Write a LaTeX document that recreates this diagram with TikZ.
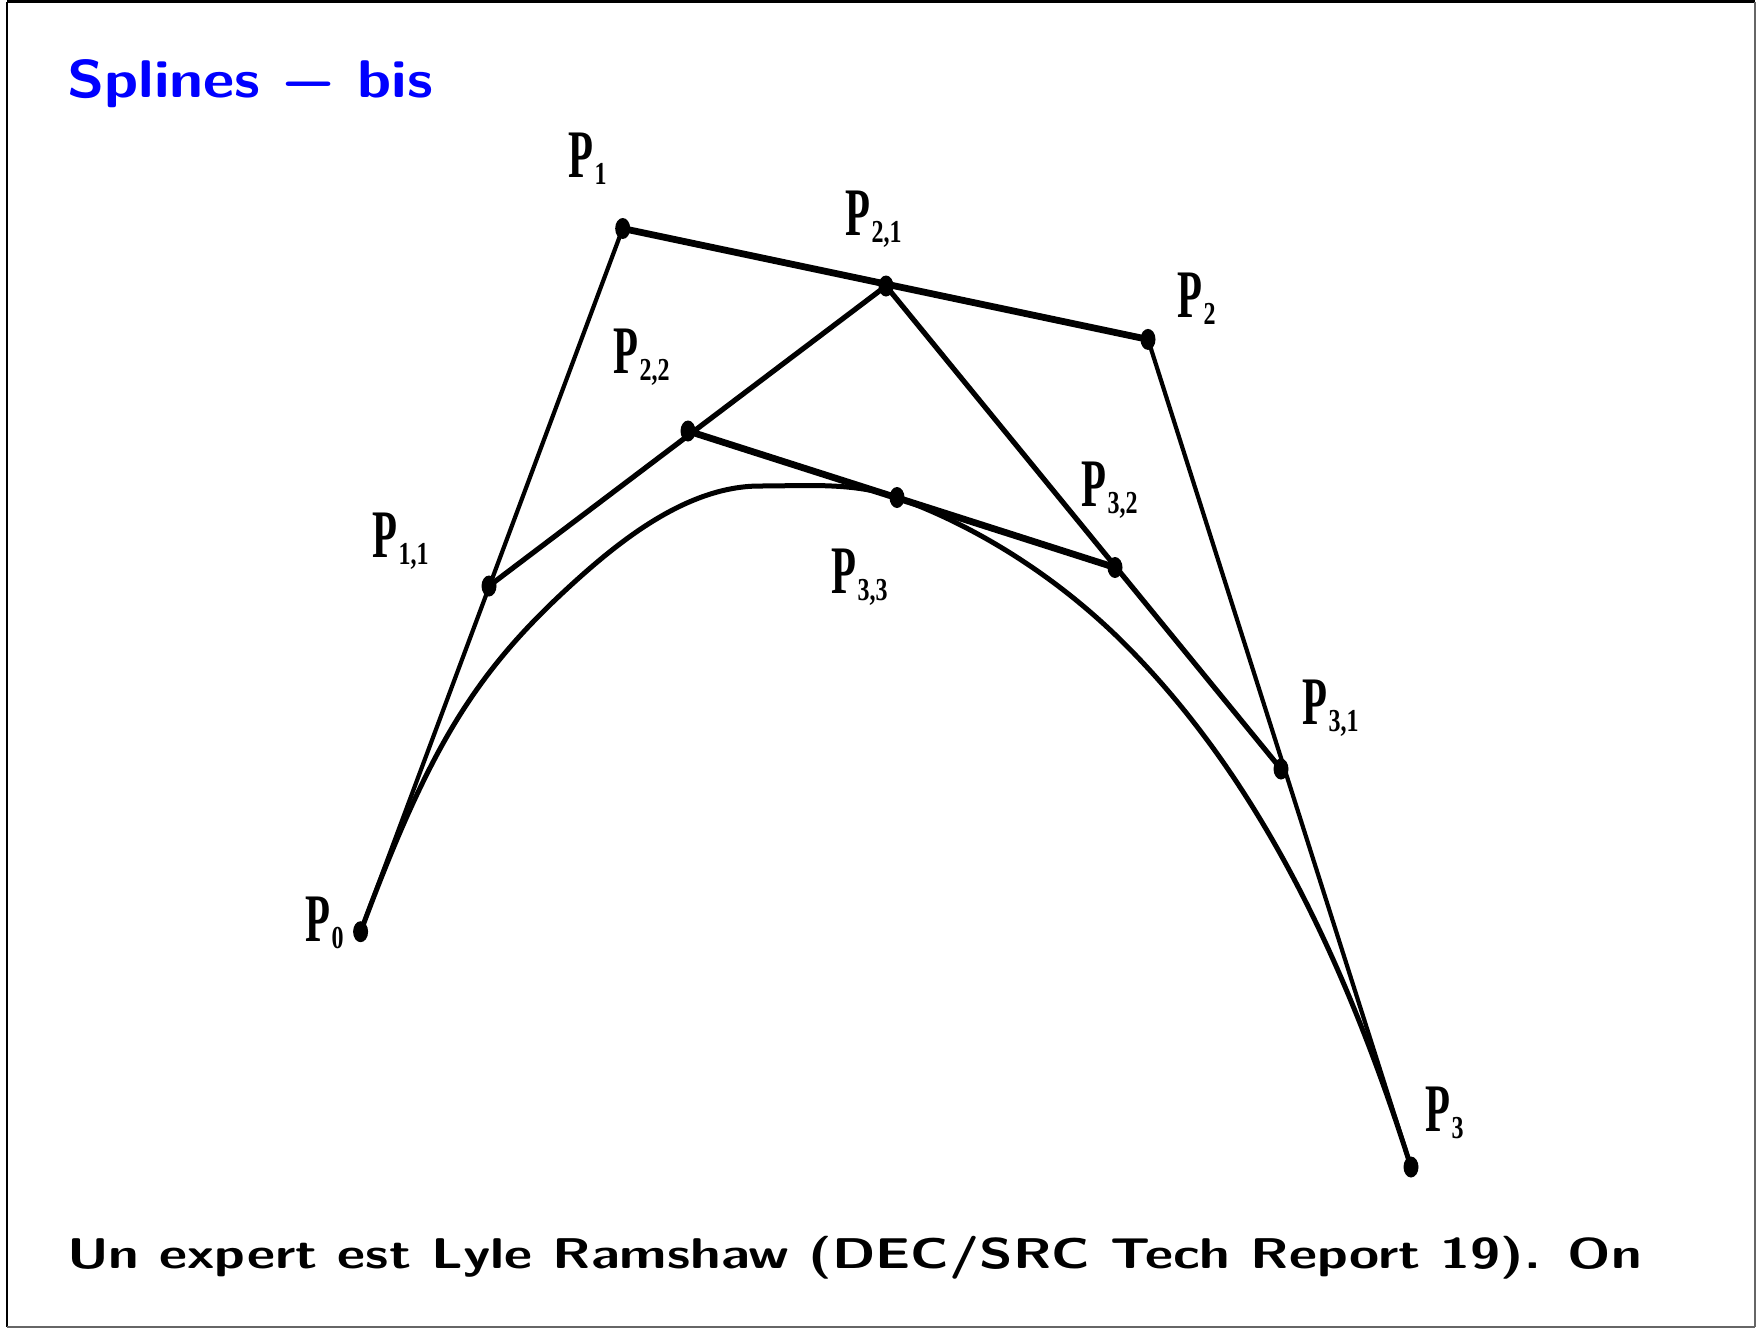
\documentclass[tikz,border=0pt]{standalone}
\usepackage{fontspec}
\newfontfamily\lbl{Liberation Serif}
\newcommand{\fitw}[2]{\sbox0{#2}\pgfmathsetmacro\fitratio{#1/\wd0}\scalebox{\fitratio}[1]{\usebox0}}
\newcommand{\PP}[1]{\scalebox{0.6}[1]{\lbl\bfseries\fontsize{68}{70}\selectfont P\kern3pt\raisebox{-7pt}{\scalebox{1.25}[1]{\fontsize{32}{34}\selectfont #1}}}}
\tikzset{
  thinln/.style={line width=4.2pt, line cap=round, line join=round},
  medln/.style={line width=5.2pt, line cap=round},
  thickln/.style={line width=6.8pt, line cap=round},
  curveln/.style={line width=5pt, line cap=round, line join=round},
  ptdot/.style={fill=black},
  lab/.style={anchor=base west, inner sep=0pt, outer sep=0pt},
}
\begin{document}
\begin{tikzpicture}[x=1pt,y=-1pt]
\useasboundingbox (0,0) rectangle (1756,1328);
% frame
\draw[line width=2.5pt, black] (7,1.5) -- (1755,1.5);
\draw[line width=2.5pt, black] (7,1.5) -- (7,1326.5);
\draw[line width=2pt, black!60] (1755,1.5) -- (1755,1326.5);
\draw[line width=2pt, black!60] (7,1326.5) -- (1755,1326.5);
% points
\coordinate (P0) at (360.6,931.7);
\coordinate (P1) at (622.7,228.5);
\coordinate (P2) at (1148,339.4);
\coordinate (P3) at (1411,1167);
\coordinate (P11) at (489,586);
\coordinate (P21) at (886,286);
\coordinate (P31) at (1281,769);
\coordinate (P22) at (688,431);
\coordinate (P32) at (1115,567.5);
\coordinate (P33) at (897,497.5);
% curve support points
\coordinate (CA) at (580,577);
\coordinate (CT) at (760,486);
\coordinate (CB) at (1125,644.3);
% control polygon and construction
\draw[thinln] (P0) -- (P1);
\draw[thickln] (P1) -- (P2);
\draw[thinln] (P2) -- (P3);
\draw[medln] (P11) -- (P21);
\draw[medln] (P21) -- (P31);
\draw[thickln] (P22) -- (P32);
% curve
\draw[curveln] (P0) .. controls (430.4,744.3) and (475.6,670.2) .. (CA)
  .. controls (630,532.4) and (693,486) .. (CT)
  .. controls (806,486) and (854,481.9) .. (P33)
  .. controls (981.6,528.1) and (1061.4,580.6) .. (CB)
  .. controls (1266.4,785.9) and (1350.4,976.4) .. (P3);
% dots
\foreach \p in {P0,P1,P2,P3,P11,P21,P31,P22,P32,P33}
  \fill[ptdot] (\p) ellipse [x radius=7.5pt, y radius=10.5pt];
% labels
\node[lab] (L0) at (305,941) {\PP{0}};
\node[lab] (L1) at (568,177) {\PP{1}};
\node[lab] (L2) at (1177,317) {\PP{2}};
\node[lab] (L3) at (1425,1131) {\PP{3}};
\node[lab] (L11) at (372,557) {\PP{1,1}};
\node[lab] (L21) at (845,235) {\PP{2,1}};
\node[lab] (L31) at (1302,724) {\PP{3,1}};
\node[lab] (L22) at (613,373) {\PP{2,2}};
\node[lab] (L32) at (1081,506) {\PP{3,2}};
\node[lab] (L33) at (831,593) {\PP{3,3}};
% texts
\node[lab, text=blue] (title) at (67,97) {\fitw{366}{\sffamily\bfseries\fontsize{53}{60}\selectfont Splines − bis}};
\node[lab] (foot) at (67,1268) {\fitw{1575}{\sffamily\bfseries\fontsize{43}{50}\selectfont Un expert est Lyle Ramshaw (DEC/SRC Tech Report 19). On}};
\end{tikzpicture}
\end{document}
